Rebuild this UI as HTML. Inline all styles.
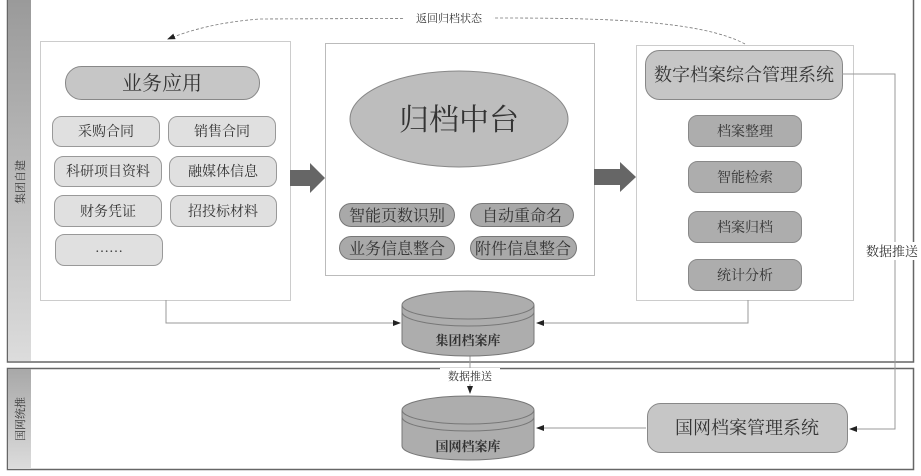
<!DOCTYPE html>
<html><head><meta charset="utf-8"><style>
html,body{margin:0;padding:0;background:#fff}
svg text{font-family:"Liberation Serif","Noto Serif CJK SC","Noto Sans CJK SC",serif;fill:#333}
</style></head><body>
<svg width="921" height="471" viewBox="0 0 921 471" xmlns="http://www.w3.org/2000/svg">
<defs>
<linearGradient id="strip" x1="0" y1="0" x2="0" y2="1"><stop offset="0" stop-color="#9a9a9a"/><stop offset="1" stop-color="#dcdcdc"/></linearGradient>
<linearGradient id="strip2" x1="0" y1="0" x2="0" y2="1"><stop offset="0" stop-color="#a8a8a8"/><stop offset="1" stop-color="#dcdcdc"/></linearGradient>
<marker id="ah" markerWidth="8" markerHeight="8" refX="7" refY="4" orient="auto" markerUnits="userSpaceOnUse"><path d="M0,1 L8,4 L0,7 Z" fill="#222"/></marker>
</defs>
<!-- lanes -->
<rect x="7.5" y="-1" width="906" height="363" fill="#fff" stroke="#666" stroke-width="1.5"/>
<rect x="8" y="0" width="23" height="361" fill="url(#strip)"/>
<text transform="translate(24,182) rotate(-90)" text-anchor="middle" font-size="11" fill="#444">集团自建</text>
<rect x="7.5" y="368.5" width="906" height="101" fill="#fff" stroke="#666" stroke-width="1.5"/>
<rect x="8" y="369" width="23" height="100" fill="url(#strip2)"/>
<text transform="translate(24,419) rotate(-90)" text-anchor="middle" font-size="11" fill="#444">国网统推</text>

<!-- boxes -->
<rect x="40.5" y="41.5" width="250" height="259" fill="#fff" stroke="#ccc"/>
<rect x="325.5" y="43.5" width="269" height="232" fill="#fff" stroke="#bbb"/>
<rect x="636.5" y="45.5" width="217" height="255" fill="#fff" stroke="#ccc"/>

<!-- left -->
<rect x="65.5" y="66.5" width="194" height="33" rx="16" fill="#c6c6c6" stroke="#888"/>
<text x="162" y="90" font-size="20" text-anchor="middle">业务应用</text>
<g fill="#e0e0e0" stroke="#999">
<rect x="52.5" y="116.5" width="107" height="30" rx="9"/>
<rect x="168.5" y="116.5" width="107" height="30" rx="9"/>
<rect x="54.5" y="156.5" width="107" height="30" rx="9"/>
<rect x="169.5" y="156.5" width="107" height="30" rx="9"/>
<rect x="54.5" y="195.5" width="107" height="31" rx="9"/>
<rect x="170.5" y="195.5" width="106" height="31" rx="9"/>
<rect x="55.5" y="234.5" width="107" height="31" rx="9"/>
</g>
<g font-size="14" text-anchor="middle">
<text x="106" y="136">采购合同</text>
<text x="222" y="136">销售合同</text>
<text x="108" y="176">科研项目资料</text>
<text x="223" y="176">融媒体信息</text>
<text x="108" y="216">财务凭证</text>
<text x="223" y="216">招投标材料</text>
<text x="109" y="252">……</text>
</g>

<!-- arrows -->
<path d="M290,170 H310 V163 L325,178 L310,193 V186 H290 Z" fill="#666"/>
<path d="M594,169 H620 V162 L636,177 L620,192 V185 H594 Z" fill="#666"/>

<!-- middle -->
<ellipse cx="459" cy="119" rx="109" ry="48" fill="#bdbdbd" stroke="#888"/>
<text x="459" y="130" font-size="30" text-anchor="middle">归档中台</text>
<g fill="#a9a9a9" stroke="#777">
<rect x="339.5" y="203.5" width="115" height="23" rx="11.5"/>
<rect x="339.5" y="236.5" width="115" height="23" rx="11.5"/>
<rect x="470.5" y="203.5" width="103" height="23" rx="11.5"/>
<rect x="470.5" y="236.5" width="106" height="23" rx="11.5"/>
</g>
<g font-size="16" text-anchor="middle">
<text x="397" y="221">智能页数识别</text>
<text x="397" y="254">业务信息整合</text>
<text x="522" y="221">自动重命名</text>
<text x="523" y="254">附件信息整合</text>
</g>

<!-- right -->
<rect x="645.5" y="50.5" width="197" height="49" rx="14" fill="#c6c6c6" stroke="#888"/>
<text x="744" y="81" font-size="18" text-anchor="middle">数字档案综合管理系统</text>
<g fill="#adadad" stroke="#888">
<rect x="688.5" y="115.5" width="113" height="31" rx="9"/>
<rect x="688.5" y="161.5" width="113" height="31" rx="9"/>
<rect x="688.5" y="211.5" width="113" height="31" rx="9"/>
<rect x="688.5" y="259.5" width="113" height="31" rx="9"/>
</g>
<g font-size="14" text-anchor="middle">
<text x="745" y="136">档案整理</text>
<text x="745" y="182">智能检索</text>
<text x="745" y="232">档案归档</text>
<text x="745" y="280">统计分析</text>
</g>

<!-- dashed return -->
<path d="M745,44 C700,20 600,18 500,18 L260,19 C220,22 190,30 168,39" fill="none" stroke="#777" stroke-width="0.8" stroke-dasharray="3,2" marker-end="url(#ah)"/>
<rect x="405" y="10" width="88" height="16" fill="#fff"/>
<text x="449" y="22" font-size="11" text-anchor="middle" fill="#444">返回归档状态</text>

<!-- connectors -->
<g fill="none" stroke="#999" stroke-width="1">
<path d="M166,300 V323 H400" marker-end="url(#ah)"/>
<path d="M748,300 V323 H537" marker-end="url(#ah)"/>
<path d="M842,74 H895 V429 H850" marker-end="url(#ah)"/>
<path d="M470,356 V393" marker-end="url(#ah)"/>
<path d="M646,428 H537" marker-end="url(#ah)"/>
</g>
<rect x="863" y="242" width="58" height="18" fill="#fff"/>
<text x="892" y="256" font-size="13" text-anchor="middle">数据推送</text>
<rect x="440" y="368" width="60" height="16" fill="#fff"/>
<text x="470" y="380" font-size="11" text-anchor="middle">数据推送</text>

<!-- cylinders -->
<g stroke="#777" fill="#adadad">
<path d="M402,305 V342 A66,14 0 0 0 534,342 V305"/>
<ellipse cx="468" cy="305" rx="66" ry="14"/>
<path d="M402,312 A66,14 0 0 0 534,312" fill="none"/>
<path d="M402,410 V446 A66,14 0 0 0 534,446 V410"/>
<ellipse cx="468" cy="410" rx="66" ry="14"/>
<path d="M402,417 A66,14 0 0 0 534,417" fill="none"/>
</g>
<text x="468" y="345" font-size="13" text-anchor="middle" font-weight="bold" fill="#222">集团档案库</text>
<text x="468" y="451" font-size="13" text-anchor="middle" font-weight="bold" fill="#222">国网档案库</text>

<!-- 国网档案管理系统 -->
<rect x="647.5" y="403.5" width="200" height="49" rx="13" fill="#c6c6c6" stroke="#888"/>
<text x="747" y="434" font-size="18" text-anchor="middle">国网档案管理系统</text>
</svg>
</body></html>
